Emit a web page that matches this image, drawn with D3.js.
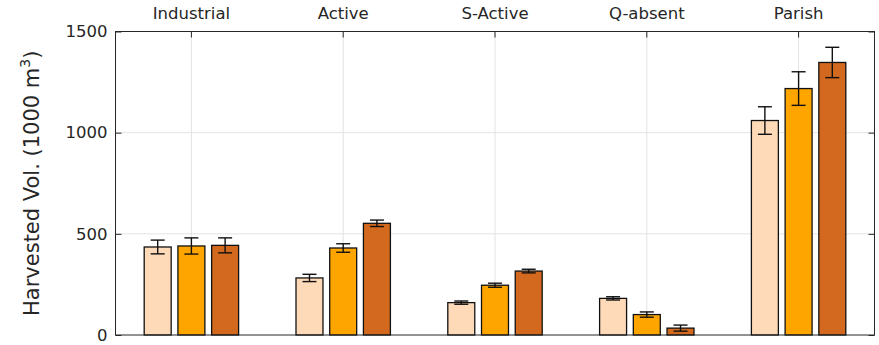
<!DOCTYPE html>
<html>
<head>
<meta charset="utf-8">
<script src="https://cdn.jsdelivr.net/npm/d3@7"></script>
<style>
  html, body { margin: 0; padding: 0; background: #fff; }
  text { font-family: "DejaVu Sans", sans-serif; fill: #262626; }
</style>
</head>
<body>
<svg id="chart" width="879" height="345"></svg>
<script>
// Harvested volume by management scenario, three levels per scenario
const categories = ["Industrial", "Active", "S-Active", "Q-absent", "Parish"];
const seriesNames = ["low", "mid", "high"];
const seriesColors = ["#FFDAB9", "#FFA500", "#D2691E"];
const valuesLow  = [435, 282, 160, 181, 1060];
const valuesMid  = [440, 430, 246, 101, 1218];
const valuesHigh = [443, 552, 316, 34, 1347];
const errLow  = [34, 18, 8, 8, 68];
const errMid  = [40, 21, 10, 13, 83];
const errHigh = [37, 16, 9, 15, 75];
const yTicks = [0, 500, 1000, 1500];
const yLabel = "Harvested Vol. (1000 m";

const series = [
  { values: valuesLow, errs: errLow },
  { values: valuesMid, errs: errMid },
  { values: valuesHigh, errs: errHigh }
];

const svg = d3.select("#chart");
const margin = { left: 115.5, right: 4.5, top: 31.5, bottom: 10 };
const W = 879, H = 345;
const x0 = margin.left, x1 = W - margin.right;
const y0 = H - margin.bottom, y1 = margin.top;

const x = d3.scaleBand().domain(categories).range([x0, x1]).padding(0);
const xs = d3.scaleBand().domain(seriesNames).range([-47.2, 47.2]).paddingInner(0.2).paddingOuter(0);
const y = d3.scaleLinear().domain([0, 1500]).range([y0, y1]);

// grid
const grid = svg.append("g").attr("stroke", "#e3e3e3").attr("stroke-width", 1);
grid.selectAll("line.h").data(yTicks.slice(1, -1)).join("line")
  .attr("x1", x0).attr("x2", x1)
  .attr("y1", d => y(d)).attr("y2", d => y(d));
grid.selectAll("line.v").data(categories).join("line")
  .attr("x1", d => x(d) + x.bandwidth() / 2).attr("x2", d => x(d) + x.bandwidth() / 2)
  .attr("y1", y0).attr("y2", y1);

// bars
const groups = svg.append("g").selectAll("g").data(categories).join("g")
  .attr("transform", d => `translate(${x(d) + x.bandwidth() / 2},0)`);

groups.each(function (cat, ci) {
  const g = d3.select(this);
  series.forEach((s, si) => {
    const v = s.values[ci], e = s.errs[ci];
    const bx = xs(seriesNames[si]);
    g.append("rect")
      .attr("x", bx).attr("width", xs.bandwidth())
      .attr("y", y(v)).attr("height", y(0) - y(v))
      .attr("fill", seriesColors[si])
      .attr("stroke", "#111").attr("stroke-width", 1.3);
    const cx = bx + xs.bandwidth() / 2;
    const eb = g.append("g").attr("stroke", "#111").attr("stroke-width", 1.4);
    eb.append("line").attr("x1", cx).attr("x2", cx).attr("y1", y(v + e)).attr("y2", y(v - e));
    eb.append("line").attr("x1", cx - 7).attr("x2", cx + 7).attr("y1", y(v + e)).attr("y2", y(v + e));
    eb.append("line").attr("x1", cx - 7).attr("x2", cx + 7).attr("y1", y(v - e)).attr("y2", y(v - e));
  });
});

// frame
svg.append("rect")
  .attr("x", x0).attr("y", y1).attr("width", x1 - x0).attr("height", y0 - y1)
  .attr("fill", "none").attr("stroke", "#262626").attr("stroke-width", 1);

// left axis (inside ticks)
const yAxis = d3.axisLeft(y).tickValues(yTicks).tickSize(-6).tickPadding(8).tickFormat(d3.format("d"));
const ga = svg.append("g").attr("transform", `translate(${x0},0)`).call(yAxis);
ga.select(".domain").remove();
ga.selectAll("line").attr("stroke", "#262626");
ga.selectAll("text").attr("font-size", 16.5).style("font-family", "DejaVu Sans").attr("fill", "#262626");

// right side ticks
const gr = svg.append("g").attr("transform", `translate(${x1},0)`)
  .call(d3.axisRight(y).tickValues(yTicks).tickSize(-6).tickFormat(""));
gr.select(".domain").remove();
gr.selectAll("line").attr("stroke", "#262626");

// top axis with category labels
const gt = svg.append("g").attr("transform", `translate(0,${y1})`)
  .call(d3.axisTop(x).tickSize(-6).tickPadding(13));
gt.select(".domain").remove();
gt.selectAll("line").attr("stroke", "#262626");
gt.selectAll("text").attr("font-size", 16.5).style("font-family", "DejaVu Sans").attr("fill", "#262626");

// y-axis title
const yt = svg.append("text")
  .attr("transform", `translate(39,${(y0 + y1) / 2}) rotate(-90)`)
  .attr("text-anchor", "middle")
  .attr("font-size", 21);
yt.append("tspan").text(yLabel);
yt.append("tspan").attr("font-size", 14).attr("dy", -9).text("3");
yt.append("tspan").attr("dy", 9).text(")");
</script>
</body>
</html>
